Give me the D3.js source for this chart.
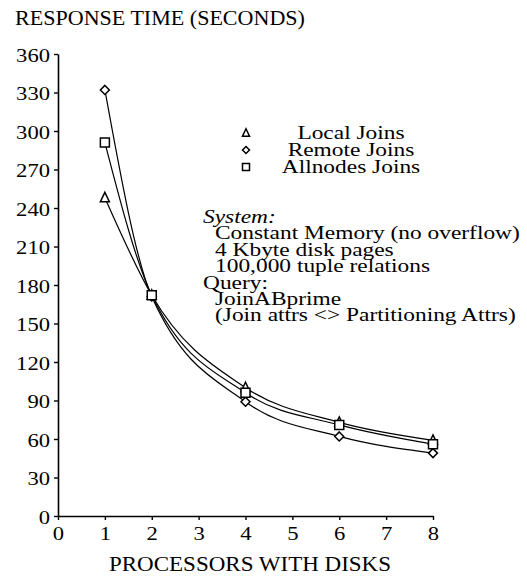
<!DOCTYPE html>
<html>
<head>
<meta charset="utf-8">
<script src="https://cdn.jsdelivr.net/npm/d3@7"></script>
<style>
  html, body { margin: 0; padding: 0; background: #fff; }
  svg, svg text { font-family: "Liberation Serif", "Times New Roman", Times, serif; }
  svg text { fill: #000; }
</style>
</head>
<body>
<svg id="chart" width="527" height="579" font-family="Liberation Serif, Times New Roman, serif"></svg>
<script>
// Processors with disks (x) and response time in seconds per join strategy
const processors = [1, 2, 4, 6, 8];
const localJoins = [248, 172, 100, 73, 59];
const remoteJoins = [332, 171, 89, 62, 49];
const allnodesJoins = [291, 172, 96, 71, 56];

const xTickValues = [0, 1, 2, 3, 4, 5, 6, 7, 8];
const yTickValues = [0, 30, 60, 90, 120, 150, 180, 210, 240, 270, 300, 330, 360];

const seriesNames = ["Local Joins", "Remote Joins", "Allnodes Joins"];
const seriesSymbols = ["triangle", "diamond", "square"];

const systemNotes = [
  "System:",
  "  Constant Memory (no overflow)",
  "  4 Kbyte disk pages",
  "  100,000 tuple relations",
  "Query:",
  "  JoinABprime",
  "  (Join attrs <> Partitioning Attrs)"
];

const svg = d3.select("#chart");
const x = d3.scaleLinear().domain([0, 8]).range([58, 433]);
const y = d3.scaleLinear().domain([0, 360]).range([516, 54]);

const serif = '"Liberation Serif", "Times New Roman", serif';

// the printed typeface runs wide; widen each text run by a factor
function widen(sel, k) {
  sel.each(function () {
    const len = this.getComputedTextLength();
    d3.select(this).attr("textLength", len * k).attr("lengthAdjust", "spacingAndGlyphs");
  });
}

// axes
const yAxis = svg.append("g")
  .attr("transform", `translate(${x(0)},0)`)
  .call(d3.axisLeft(y).tickValues(yTickValues).tickSize(4).tickSizeOuter(0).tickPadding(4));
const xAxis = svg.append("g")
  .attr("transform", `translate(0,${y(0)})`)
  .call(d3.axisBottom(x).tickValues(xTickValues).tickSize(4).tickSizeOuter(0).tickPadding(6));
[yAxis, xAxis].forEach(g => {
  g.attr("font-size", null).attr("font-family", null);
  g.select(".domain").attr("stroke", "#000").attr("stroke-width", 1.6);
  g.selectAll(".tick line").attr("stroke", "#000").attr("stroke-width", 1.4);
  g.selectAll(".tick text")
    .style("font-family", serif).style("font-size", "19.5px").attr("fill", "#000");
});
yAxis.selectAll(".tick text").attr("dy", "0.36em");
widen(yAxis.selectAll(".tick text"), 1.16);
widen(xAxis.selectAll(".tick text"), 1.16);

// axis titles
svg.append("text").attr("x", 15).attr("y", 25)
  .style("font-family", serif).style("font-size", "21px")
  .text("RESPONSE TIME (SECONDS)")
  .call(widen, 1.05);
svg.append("text").attr("x", 250).attr("y", 571)
  .attr("text-anchor", "middle")
  .style("font-family", serif).style("font-size", "21.5px")
  .text("PROCESSORS WITH DISKS")
  .call(widen, 1.07);

// curves
const line = d3.line()
  .x((d, i) => x(processors[i]))
  .y(d => y(d))
  .curve(d3.curveMonotoneX);

const allSeries = [localJoins, remoteJoins, allnodesJoins];
allSeries.forEach(vals => {
  svg.append("path").attr("d", line(vals))
    .attr("fill", "none").attr("stroke", "#000").attr("stroke-width", 1.2);
});

// marker shapes
function drawSymbol(g, kind, cx, cy, s) {
  let d;
  if (kind === "triangle") d = `M${cx},${cy - s * 0.6}L${cx + s * 0.5},${cy + s * 0.45}L${cx - s * 0.5},${cy + s * 0.45}Z`;
  else if (kind === "diamond") d = `M${cx},${cy - s * 0.5}L${cx + s * 0.5},${cy}L${cx},${cy + s * 0.5}L${cx - s * 0.5},${cy}Z`;
  else d = `M${cx - s * 0.5},${cy - s * 0.5}h${s}v${s}h${-s}Z`;
  g.append("path").attr("d", d)
    .attr("fill", "#fff").attr("stroke", "#000").attr("stroke-width", 1.5);
}

const markers = svg.append("g");
allSeries.forEach((vals, k) => {
  vals.forEach((v, i) => drawSymbol(markers, seriesSymbols[k], x(processors[i]), y(v), 9));
});

// legend
const legend = svg.append("g");
seriesNames.forEach((name, i) => {
  const cy = 133 + i * 17;
  drawSymbol(legend, seriesSymbols[i], 246, cy, 7);
  legend.append("text").attr("x", 351).attr("y", cy + 6)
    .attr("text-anchor", "middle")
    .style("font-family", serif).style("font-size", "18px")
    .text(name)
    .call(widen, 1.3);
});

// notes block
systemNotes.forEach((t, i) => {
  const indented = t.startsWith("  ");
  svg.append("text")
    .attr("x", indented ? 215 : 203)
    .attr("y", 223 + i * 16.4)
    .style("font-family", serif).style("font-size", "18px")
    .style("font-style", i === 0 ? "italic" : "normal")
    .text(t.trim())
    .call(widen, 1.3);
});
</script>
</body>
</html>
